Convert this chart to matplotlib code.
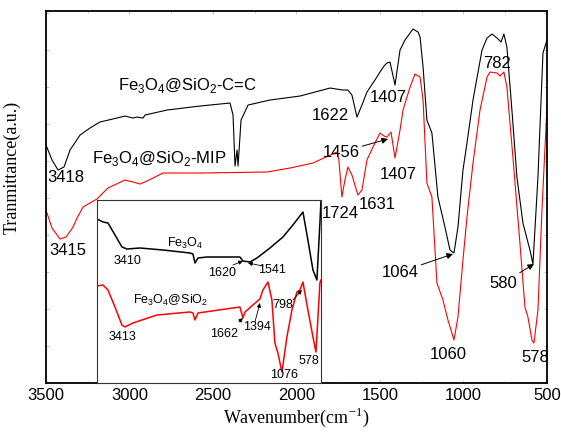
import numpy as np
import matplotlib.pyplot as plt
from matplotlib.ticker import MultipleLocator

plt.rcParams['font.family'] = ['Liberation Sans', 'DejaVu Sans']
plt.rcParams['mathtext.fontset'] = 'custom'
plt.rcParams['mathtext.rm'] = 'Liberation Serif'
plt.rcParams['mathtext.sf'] = 'Liberation Sans'

# ---- main spectra (wavenumber cm-1, transmittance a.u.) ----
wn_cc = [3500, 3464, 3428, 3392, 3356, 3296, 3237, 3177, 3075, 3027, 2979, 2955, 2919, 2907,
         2775, 2578, 2398, 2380, 2368, 2356, 2350, 2332, 2290, 2159, 1979, 1799, 1722, 1692,
         1668, 1638, 1608, 1578, 1530, 1500, 1476, 1458, 1440, 1410, 1380, 1350, 1320, 1302,
         1272, 1260, 1242, 1219, 1189, 1153, 1111, 1081, 1057, 1033, 1003, 979, 943, 889,
         859, 829, 799, 775, 758, 740, 710, 680, 644, 602, 584, 554, 524, 500]
t_cc = [238, 223, 213, 216, 233, 248, 255, 261, 265, 267, 265, 266, 265, 268,
        273, 277, 280, 268, 217, 233, 217, 263, 278, 283, 287, 295, 293, 293,
        288, 266, 278, 291, 303, 311, 317, 320, 321, 298, 333, 343, 350, 354,
        351, 346, 316, 263, 250, 186, 156, 133, 130, 156, 213, 240, 283, 333,
        345, 349, 345, 341, 349, 336, 273, 206, 160, 133, 119, 206, 330, 343]

wn_mip = [3500, 3464, 3416, 3380, 3338, 3314, 3278, 3195, 3129, 3027, 2979, 2937, 2895, 2799,
          2578, 2177, 2039, 1901, 1758, 1746, 1728, 1710, 1692, 1668, 1632, 1608, 1578, 1542,
          1500, 1476, 1458, 1434, 1410, 1380, 1362, 1320, 1290, 1260, 1242, 1219, 1189, 1159,
          1123, 1093, 1057, 1033, 1003, 979, 943, 901, 859, 841, 799, 781, 758, 740,
          704, 662, 632, 614, 590, 578, 554, 530, 500]
t_mip = [173, 155, 144, 146, 156, 165, 176, 184, 195, 203, 201, 199, 202, 210,
         210, 211, 215, 220, 231, 223, 186, 203, 216, 208, 188, 193, 223, 236,
         250, 247, 246, 251, 225, 253, 273, 296, 309, 306, 283, 200, 186, 100,
         83, 63, 43, 66, 123, 166, 220, 273, 306, 311, 310, 307, 311, 296,
         226, 140, 76, 66, 43, 40, 73, 173, 276]

# ---- inset spectra ----
wn_fe = [3790, 3702, 3629, 3526, 3424, 3350, 3160, 2822, 2427, 2383, 2353, 2309, 2177, 1694,
         1650, 1547, 1444, 1254, 1063, 917, 770, 697, 623, 565, 521, 505]
t_fe = [164, 161, 160, 148, 136, 134, 135, 133, 130, 129, 120, 125, 126, 126,
        122, 121, 125, 135, 146, 158, 171, 143, 113, 103, 160, 183]

wn_si = [3790, 3702, 3629, 3526, 3424, 3380, 3262, 2910, 2427, 2383, 2353, 2309, 1694, 1650,
         1620, 1503, 1400, 1357, 1283, 1225, 1181, 1137, 1078, 1005, 931, 858, 814, 770,
         697, 623, 579, 521, 505]
t_si = [97, 98, 93, 76, 58, 56, 60, 68, 71, 70, 63, 70, 76, 65,
        71, 78, 84, 93, 101, 83, 40, 30, 11, 46, 73, 91, 93, 101,
        73, 46, 31, 100, 103]

fig = plt.figure(figsize=(5.61, 4.33), dpi=100)
ax = fig.add_axes([0.082, 0.1155, 0.893, 0.859])
ax.plot(wn_cc, t_cc, color='black', lw=0.8)
ax.plot(wn_mip, t_mip, color='red', lw=0.8)
ax.set_xlim(3500, 500)
ax.set_ylim(0, 372)
ax.xaxis.set_major_locator(MultipleLocator(500))
ax.xaxis.set_minor_locator(MultipleLocator(250))
ax.yaxis.set_major_locator(MultipleLocator(37))
ax.tick_params(which='both', direction='in', top=True, right=True, labelleft=False,
               color='#bbbbbb', width=0.6)
ax.tick_params(which='major', length=2.5, labelsize=12, labelcolor='black')
ax.tick_params(which='minor', length=1.5)
for s in ax.spines.values():
    s.set_linewidth(1.3)
ax.set_xlabel(r'Wavenumber(cm$^{\mathrm{-1}}$)', family='Liberation Serif', fontsize=13, labelpad=2)
ax.set_ylabel('Tranmittance(a.u.)', family='Liberation Serif', fontsize=13, labelpad=4)
ax.yaxis.set_label_coords(-0.05, 0.58)

fs = 12
ax.text(2653, 298, r'Fe$_\mathsf{3}$O$_\mathsf{4}$@SiO$_\mathsf{2}$-C=C', fontsize=fs, ha='center', va='center')
ax.text(2820, 225, r'Fe$_\mathsf{3}$O$_\mathsf{4}$@SiO$_\mathsf{2}$-MIP', fontsize=fs, ha='center', va='center')
labels = [(3380, 206, '3418'), (3368, 133, '3415'), (1799, 268, '1622'), (1452, 286, '1407'),
          (1392, 209, '1407'), (1740, 170, '1724'), (1518, 179, '1631'), (799, 320, '782'),
          (1093, 28, '1060'), (572, 25, '578')]
for x, y, s in labels:
    ax.text(x, y, s, fontsize=fs, ha='center', va='center')

arr = dict(arrowstyle='-|>', color='black', lw=0.7, mutation_scale=9, shrinkA=0, shrinkB=0)
ax.annotate('1456', xy=(1452, 244), xytext=(1734, 231), fontsize=fs, ha='center', va='center',
            arrowprops=arr)
ax.annotate('1064', xy=(1063, 129), xytext=(1380, 111), fontsize=fs, ha='center', va='center',
            arrowprops=arr)
ax.annotate('580', xy=(578, 119), xytext=(763, 100), fontsize=fs, ha='center', va='center',
            arrowprops=arr)

# ---- inset ----
ins = fig.add_axes([0.1729, 0.1155, 0.3993, 0.4226])
ins.plot(wn_fe, t_fe, color='black', lw=1.1)
ins.plot(wn_si, t_si, color='red', lw=1.1)
ins.set_xlim(3790, 505)
ins.set_ylim(0, 183)
ins.set_xticks([])
ins.set_yticks([])
for s in ins.spines.values():
    s.set_linewidth(0.8)
    s.set_color('#333333')

fi = 9
ins.text(2500, 140, r'Fe$_\mathsf{3}$O$_\mathsf{4}$', fontsize=fi, ha='center', va='center')
ins.text(2705, 83, r'Fe$_\mathsf{3}$O$_\mathsf{4}$@SiO$_\mathsf{2}$', fontsize=fi, ha='center', va='center')
for x, y, s in [(3350, 122, '3410'), (3424, 46, '3413'), (1049, 8, '1076'), (682, 22, '578')]:
    ins.text(x, y, s, fontsize=fi, ha='center', va='center')

arr2 = dict(arrowstyle='-|>', color='black', lw=0.6, mutation_scale=6, shrinkA=0, shrinkB=0)
ins.annotate('', xy=(1650, 122), xytext=(1796, 118), arrowprops=arr2)
ins.text(1958, 110, '1620', fontsize=fi, ha='center', va='center')
ins.annotate('', xy=(1576, 120), xytext=(1356, 117), arrowprops=arr2)
ins.text(1225, 113, '1541', fontsize=fi, ha='center', va='center')
ins.annotate('', xy=(1650, 65), xytext=(1708, 61), arrowprops=arr2)
ins.text(1928, 49, '1662', fontsize=fi, ha='center', va='center')
ins.annotate('', xy=(1400, 80), xytext=(1474, 61), arrowprops=arr2)
ins.text(1444, 56, '1394', fontsize=fi, ha='center', va='center')
ins.annotate('', xy=(785, 93), xytext=(917, 83), arrowprops=arr2)
ins.text(1063, 78, '798', fontsize=fi, ha='center', va='center')

fig.savefig('out.png', dpi=100)
